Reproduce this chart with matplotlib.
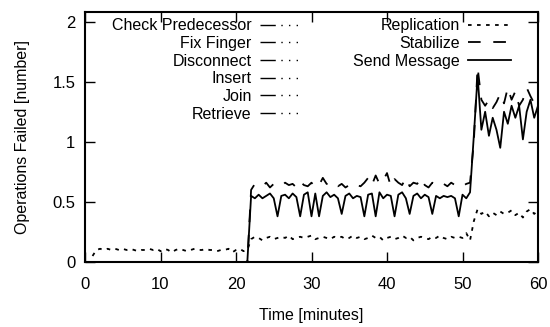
import numpy as np
import matplotlib
matplotlib.use("Agg")
import matplotlib.pyplot as plt

plt.rcParams['font.family'] = ['Liberation Sans', 'DejaVu Sans']

# time axis, one sample every half minute
time_min = np.arange(0, 60.5, 0.5)

# Replication (dotted) - no samples before t=1
replication = [np.nan, np.nan,
    0.05, 0.10, 0.11, 0.10, 0.11, 0.10, 0.11, 0.10, 0.11, 0.10,
    0.11, 0.10, 0.09, 0.10, 0.10, 0.11, 0.10, 0.11, 0.09, 0.11,
    0.10, 0.08, 0.10, 0.11, 0.10, 0.09, 0.10, 0.11, 0.10, 0.10,
    0.11, 0.10, 0.10, 0.09, 0.10, 0.10, 0.11, 0.08, 0.10, 0.11,
    0.09, 0.10,
    0.19, 0.21, 0.20, 0.18, 0.20, 0.21, 0.19, 0.20, 0.21, 0.20,
    0.22, 0.19, 0.20, 0.21, 0.20, 0.21, 0.22, 0.19, 0.20, 0.21,
    0.20, 0.19, 0.21, 0.20, 0.21, 0.19, 0.20, 0.22, 0.20, 0.21,
    0.19, 0.20, 0.22, 0.20, 0.21, 0.18, 0.20, 0.21, 0.19, 0.20,
    0.22, 0.20, 0.21, 0.18, 0.20, 0.21, 0.20, 0.19, 0.21, 0.20,
    0.22, 0.20, 0.19, 0.21, 0.20, 0.21, 0.20, 0.24, 0.18,
    0.34, 0.44, 0.40, 0.42, 0.38, 0.41, 0.39, 0.42, 0.40, 0.41,
    0.43, 0.39, 0.41, 0.37, 0.42, 0.44, 0.40, 0.43]

# Stabilize (dashed)
stabilize = [0.0] * 44 + [
    0.60, 0.65, 0.64, 0.63, 0.66, 0.62, 0.65, 0.64, 0.63, 0.66,
    0.64, 0.65, 0.62, 0.67, 0.64, 0.63, 0.66, 0.62, 0.64, 0.70,
    0.65, 0.64, 0.66, 0.63, 0.65, 0.62, 0.64, 0.66, 0.64, 0.63,
    0.66, 0.70, 0.64, 0.72, 0.65, 0.68, 0.74, 0.63, 0.69, 0.66,
    0.64, 0.70, 0.63, 0.66, 0.65, 0.70, 0.64, 0.62, 0.66, 0.63,
    0.64, 0.65, 0.63, 0.66, 0.64, 0.62, 0.63, 0.65, 0.66,
    1.00, 1.62, 1.35, 1.30, 1.35, 1.28, 1.33, 1.40, 1.32, 1.45,
    1.35, 1.42, 1.30, 1.35, 1.45, 1.38, 1.32, 1.35]

# Send Message (solid)
send_message = [0.0] * 44 + [
    0.55, 0.53, 0.56, 0.53, 0.55, 0.57, 0.53, 0.38, 0.55, 0.56,
    0.53, 0.57, 0.54, 0.38, 0.56, 0.58, 0.38, 0.57, 0.38, 0.55,
    0.58, 0.54, 0.56, 0.53, 0.40, 0.55, 0.57, 0.53, 0.55, 0.54,
    0.38, 0.56, 0.57, 0.38, 0.58, 0.53, 0.56, 0.55, 0.38, 0.56,
    0.58, 0.53, 0.40, 0.55, 0.57, 0.53, 0.56, 0.54, 0.40, 0.55,
    0.53, 0.55, 0.54, 0.55, 0.53, 0.38, 0.56, 0.53, 0.58,
    1.05, 1.55, 1.10, 1.25, 1.05, 1.20, 1.10, 0.95, 1.25, 1.15,
    1.30, 1.20, 1.30, 1.02, 1.25, 1.35, 1.20, 1.30]

# the other operations never fail
zero_ops = ["Check Predecessor", "Fix Finger", "Disconnect", "Insert", "Join", "Retrieve"]
zeros = [0.0] * len(time_min)

fig = plt.figure(figsize=(5.5, 3.27), dpi=100)
ax = fig.add_axes([85 / 550, 1 - 262 / 327, 453 / 550, 250 / 327])

dashdot = (0, (11, 4, 1, 4.5, 1, 4.5, 1, 4.5))
h1 = []
for name in zero_ops:
    l, = ax.plot(time_min, zeros, color='black', lw=1, linestyle=dashdot, label=name)
    h1.append(l)

l_rep, = ax.plot(time_min, replication, color='black', lw=1.3, linestyle=(0, (2, 3)), label='Replication')
l_stab, = ax.plot(time_min, stabilize, color='black', lw=1.3, linestyle=(0, (7, 7)), label='Stabilize')
l_send, = ax.plot(time_min, send_message, color='black', lw=1.3, label='Send Message')

ax.set_xlim(0, 60)
ax.set_ylim(0, 2.08)
ax.set_xticks([0, 10, 20, 30, 40, 50, 60])
ax.set_yticks([0, 0.5, 1, 1.5, 2])
ax.set_yticklabels(['0', '0.5', '1', '1.5', '2'])
ax.tick_params(direction='in', length=7, width=1, top=True, right=True, labelsize=12)
ax.tick_params(axis='x', pad=11)
ax.tick_params(axis='y', pad=7)
for s in ax.spines.values():
    s.set_linewidth(1.5)

ax.set_xlabel('Time [minutes]', fontsize=11.5, labelpad=11)
ax.set_ylabel('Operations Failed [number]', fontsize=11.5, labelpad=16)

leg_kw = dict(bbox_transform=fig.transFigure, frameon=False, markerfirst=False,
              fontsize=11.5, handlelength=2.7, handletextpad=0.5, labelspacing=0.17,
              borderpad=0.2, loc='upper right')
leg1 = ax.legend(handles=h1, bbox_to_anchor=(314 / 550, 1 - 7 / 327), **leg_kw)
ax.add_artist(leg1)
ax.legend(handles=[l_rep, l_stab, l_send], bbox_to_anchor=(522 / 550, 1 - 7 / 327), **leg_kw)

fig.savefig('out.png', dpi=100)
